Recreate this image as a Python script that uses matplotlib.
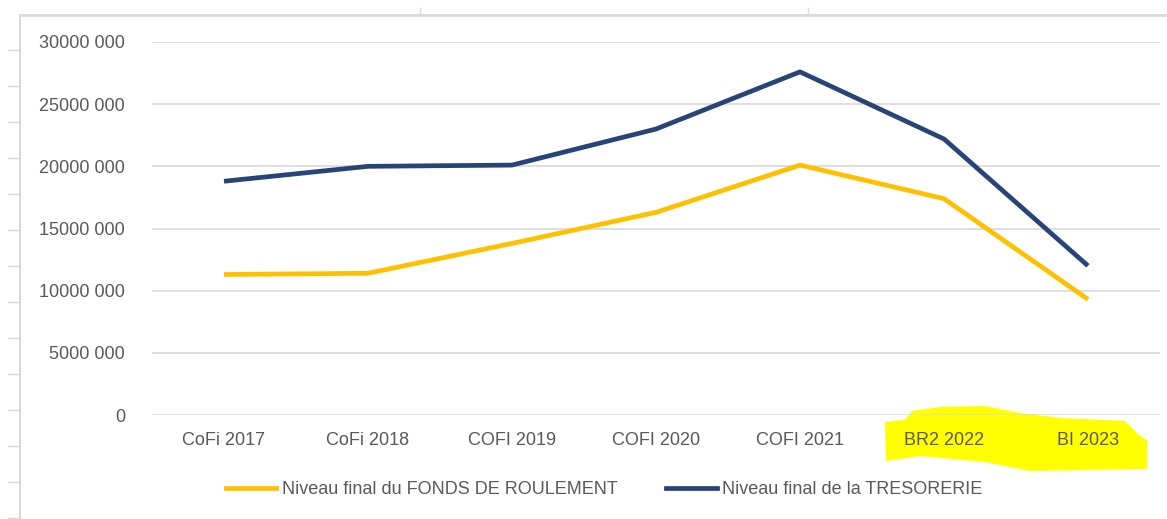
import matplotlib
matplotlib.use('Agg')
import matplotlib.pyplot as plt
from matplotlib.patches import Polygon
from matplotlib.lines import Line2D

categories = ["CoFi 2017", "CoFi 2018", "COFI 2019", "COFI 2020", "COFI 2021", "BR2 2022", "BI 2023"]
fonds_roulement = [11.3e6, 11.4e6, 13.8e6, 16.3e6, 20.1e6, 17.4e6, 9.3e6]
tresorerie = [18.8e6, 20.0e6, 20.1e6, 23.0e6, 27.6e6, 22.2e6, 12.0e6]
yticks = [0, 5e6, 10e6, 15e6, 20e6, 25e6, 30e6]

label_fr = "Niveau final du FONDS DE ROULEMENT"
label_tr = "Niveau final de la TRESORERIE"
c_yellow, c_navy, c_text, c_grid = "#FFC000", "#264478", "#595959", "#D9D9D9"

plt.rcParams['font.family'] = ['Liberation Sans', 'DejaVu Sans']
fs = 13

W, H = 1167, 519
fig = plt.figure(figsize=(W / 100, H / 100), dpi=100)

# yellow highlighter scribble behind the last two labels
blob = Polygon([(885 / W, 1 - 422 / H), (905 / W, 1 - 420 / H), (912 / W, 1 - 411 / H), (940 / W, 1 - 407 / H),
	(985 / W, 1 - 406 / H), (1020 / W, 1 - 413 / H), (1060 / W, 1 - 418 / H), (1125 / W, 1 - 421 / H),
	(1140 / W, 1 - 436 / H), (1147 / W, 1 - 440 / H), (1147 / W, 1 - 469 / H), (1030 / W, 1 - 471 / H),
	(985 / W, 1 - 462 / H), (920 / W, 1 - 456 / H), (886 / W, 1 - 461 / H)], closed=True,
	transform=fig.transFigure, facecolor="#FFFF00", edgecolor='none', zorder=-1)
fig.patches.append(blob)

ax = fig.add_axes([152 / W, 1 - 415 / H, (1160 - 152) / W, (415 - 42) / H])
ax.patch.set_alpha(0)

x = range(len(categories))
ax.plot(x, fonds_roulement, color=c_yellow, lw=3.4, solid_capstyle='butt', label=label_fr, zorder=3)
ax.plot(x, tresorerie, color=c_navy, lw=3.4, solid_capstyle='butt', label=label_tr, zorder=3)

ax.set_xlim(-0.5, len(categories) - 0.5)
ax.set_ylim(0, 30e6)
ax.set_yticks(yticks)
ax.set_yticklabels(["0" if v == 0 else "%d 000" % (v // 1000) for v in yticks])
ax.set_xticks(list(x))
ax.set_xticklabels(categories)
ax.tick_params(axis='y', length=0, pad=19.5, labelsize=fs, labelcolor=c_text)
ax.tick_params(axis='x', length=0, pad=12.5, labelsize=fs, labelcolor=c_text)
ax.grid(axis='y', color=c_grid, lw=1.2)
ax.set_axisbelow(True)
for s in ax.spines.values():
	s.set_visible(False)

handles = [Line2D([], [], color=c_yellow, lw=3.4), Line2D([], [], color=c_navy, lw=3.4)]
fig.legend(handles, [label_fr, label_tr], loc='center', bbox_to_anchor=(604 / W, 1 - 490 / H),
	ncol=2, frameon=False, fontsize=fs, labelcolor=c_text, handlelength=2.8,
	handletextpad=0.3, columnspacing=2.7)

# spreadsheet cell borders visible around the chart object
fig.add_artist(Line2D([20 / W, 20 / W], [0, 1 - 15 / H], color=c_grid, lw=1.5))
fig.add_artist(Line2D([20 / W, 1], [1 - 15 / H, 1 - 15 / H], color=c_grid, lw=2))
for yy in range(50, 519, 36):
	fig.add_artist(Line2D([8 / W, 20 / W], [1 - yy / H, 1 - yy / H], color=c_grid, lw=1))
for xx in (420, 808):
	fig.add_artist(Line2D([xx / W, xx / W], [1 - 8 / H, 1 - 15 / H], color=c_grid, lw=1))

fig.savefig("out.png", dpi=100)
